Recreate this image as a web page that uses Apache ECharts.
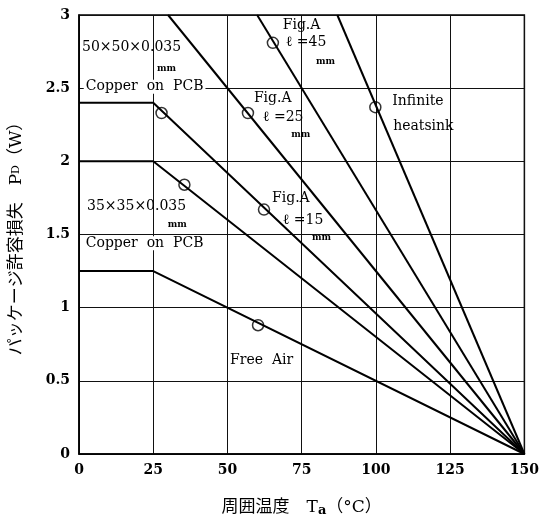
<!DOCTYPE html>
<html><head><meta charset="utf-8">
<script src="https://cdn.jsdelivr.net/npm/echarts@6/dist/echarts.min.js"></script>
<style>html,body{margin:0;padding:0;background:#fff}#c{width:542px;height:522px}</style>
</head><body><div id="c"></div>
<script>
// Data
const xTicks = [0, 25, 50, 75, 100, 125, 150];
const yTicks = [0, 0.5, 1, 1.5, 2, 2.5, 3];
const freeAir = [[0, 1.25], [25, 1.25], [150, 0]];
const copper35 = [[0, 2.0], [25, 2.0], [150, 0]];
const copper50 = [[0, 2.4], [25, 2.4], [150, 0]];   // also Fig.A ℓ=15
const figA25 = [[30, 3], [150, 0]];
const figA45 = [[60, 3], [150, 0]];
const infinite = [[87, 3], [150, 0]];
const markerPts = [[27.8, 2.33], [56.9, 2.33], [65.3, 2.81], [99.8, 2.37], [62.3, 1.67], [35.5, 1.84], [60.3, 0.88]];
// annotation texts: [text, x, y, kind]
const notes = [
  ['50×50×0.035', 1.0, 2.78, 'n'],
  ['mm', 29.5, 2.63, 's'],
  ['Copper  on  PCB', 1.6, 2.51, 'b'],
  ['Fig.A', 68.6, 2.93, 'n'],
  ['ℓ =45', 69.6, 2.81, 'n'],
  ['mm', 83, 2.68, 's'],
  ['Fig.A', 58.9, 2.43, 'n'],
  ['ℓ =25', 61.9, 2.30, 'n'],
  ['mm', 74.7, 2.18, 's'],
  ['Infinite', 105.5, 2.41, 'n'],
  ['heatsink', 105.8, 2.24, 'n'],
  ['Fig.A', 65, 1.75, 'n'],
  ['ℓ =15', 68.6, 1.60, 'n'],
  ['mm', 81.7, 1.48, 's'],
  ['35×35×0.035', 2.7, 1.69, 'n'],
  ['mm', 33.1, 1.57, 's'],
  ['Copper  on  PCB', 1.6, 1.44, 'b'],
  ['Free  Air', 50.2, 0.64, 'b']
];

const serif = '"DejaVu Serif","Liberation Serif","Noto Sans CJK JP",serif';
const chart = echarts.init(document.getElementById('c'));
const lineStyle = {color: '#000', width: 2};
function ln(d) { return {type: 'line', data: d, symbol: 'none', lineStyle: lineStyle, silent: true, animation: false}; }
chart.setOption({
  animation: false,
  grid: {left: 77, right: 17, top: 15, bottom: 62, show: true, borderColor: '#000', borderWidth: 1.5},
  xAxis: {
    type: 'value', min: 0, max: 150, interval: 25,
    axisLine: {show: true, lineStyle: {color: '#000', width: 1.5}}, axisTick: {show: false},
    splitLine: {show: true, lineStyle: {color: '#111', width: 1}},
    axisLabel: {color: '#000', fontFamily: serif, fontSize: 14, fontWeight: 'bold', margin: 9,
      formatter: v => xTicks.includes(v) ? String(v) : ''},
    name: '周囲温度　T{sub|a}（°C）', nameLocation: 'middle', nameGap: 44,
    nameTextStyle: {color: '#000', fontFamily: serif, fontSize: 17,
      rich: {sub: {fontSize: 13, fontWeight: 'bold', verticalAlign: 'bottom', padding: [6, 0, 0, 0], fontFamily: serif}}}
  },
  yAxis: {
    type: 'value', min: 0, max: 3, interval: 0.5,
    axisLine: {show: true, lineStyle: {color: '#000', width: 1.5}}, axisTick: {show: false},
    splitLine: {show: true, lineStyle: {color: '#111', width: 1}},
    axisLabel: {color: '#000', fontFamily: serif, fontSize: 14, fontWeight: 'bold', margin: 9,
      formatter: v => yTicks.includes(v) ? String(v) : ''},
    name: 'パッケージ許容損失　P{sub|D}（W）', nameLocation: 'middle', nameGap: 54,
    nameTextStyle: {color: '#000', fontFamily: serif, fontSize: 17,
      rich: {sub: {fontSize: 11, fontFamily: serif}}}
  },
  series: [
    ln(freeAir), ln(copper35), ln(copper50), ln(figA25), ln(figA45), ln(infinite),
    {type: 'scatter', data: markerPts, symbol: 'circle', symbolSize: 11, z: 5,
     itemStyle: {color: 'rgba(255,255,255,0)', borderColor: '#000', borderWidth: 1.5}, silent: true}
  ]
});
const g = notes.map(n => {
  const p = chart.convertToPixel('grid', [n[1], n[2]]);
  const small = n[3] === 's';
  return {
    type: 'text', x: p[0], y: p[1], z: 10,
    style: {
      text: n[0], fill: '#000',
      font: small ? 'bold 9px ' + serif : '14px ' + serif,
      align: small ? 'center' : 'left', verticalAlign: 'middle',
      backgroundColor: n[3] === 'b' ? '#fff' : null, padding: n[3] === 'b' ? [0, 2] : 0
    }
  };
});
chart.setOption({graphic: g});
</script></body></html>
